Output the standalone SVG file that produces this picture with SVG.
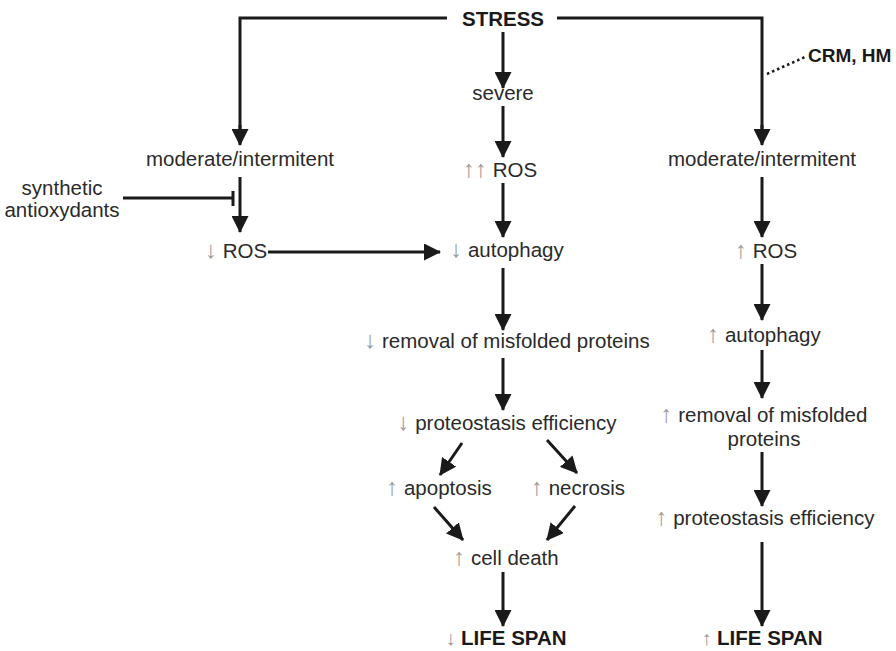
<svg xmlns="http://www.w3.org/2000/svg" width="896" height="651" viewBox="0 0 896 651">
<style>
text{font-family:"Liberation Sans",Arial,sans-serif;font-size:20.5px;fill:#2a2a2a;text-anchor:middle}
.b{font-weight:bold;fill:#1a1a1a}
.ar{fill:#9a9a9a;font-weight:normal;font-size:24px}
.ar2{fill:#9a9a9a;font-weight:normal;font-size:20px}
.ln{stroke:#1a1a1a;stroke-width:3;fill:none}
.ah{stroke:#1a1a1a;stroke-width:3;fill:none;marker-end:url(#h)}
.dot{stroke:#1a1a1a;stroke-width:2.5;stroke-dasharray:2.5 3;fill:none}
</style>
<defs>
<marker id="h" markerUnits="userSpaceOnUse" markerWidth="17" markerHeight="17" refX="16" refY="8.5" orient="auto" viewBox="0 0 17 17">
<path d="M0,0 L17,8.5 L0,17 z" fill="#1a1a1a"/>
</marker>
</defs>
<g id="connectors">
<path class="ln" d="M447,18 H240 V130"/>
<path class="ah" d="M240,125 V145"/>
<path class="ln" d="M557,18 H762 V130"/>
<path class="ah" d="M762,125 V145"/>
<path class="dot" d="M767,74 L805,57"/>
<path class="ah" d="M503,32 V88"/>
<path class="ah" d="M503,106 V157"/>
<path class="ah" d="M503,183 V237"/>
<path class="ah" d="M240,177 V232"/>
<path class="ln" d="M123,198 H233 M233,191 V206"/>
<path class="ah" d="M268,252 H440"/>
<path class="ah" d="M503,268 V330"/>
<path class="ah" d="M503,358 V410"/>
<path class="ah" d="M462,443 L440,475"/>
<path class="ah" d="M547,440 L577,473"/>
<path class="ah" d="M434,507 L463,540"/>
<path class="ah" d="M575,506 L547,540"/>
<path class="ah" d="M503,572 V626"/>
<path class="ah" d="M762,177 V237"/>
<path class="ah" d="M762,264 V320"/>
<path class="ah" d="M762,350 V398"/>
<path class="ah" d="M762,452 V506"/>
<path class="ah" d="M762,542 V626"/>
</g>
<g id="stress"><text class="b" x="503" y="26">STRESS</text></g>
<g id="crm"><text class="b" x="808" y="62" style="text-anchor:start;font-size:19px">CRM, HM</text></g>
<g id="severe"><text x="503" y="100">severe</text></g>
<g id="mod-left"><text x="240" y="166">moderate/intermitent</text></g>
<g id="mod-right"><text x="762" y="166">moderate/intermitent</text></g>
<g id="antiox"><text x="62" y="195">synthetic</text><text x="62" y="217">antioxydants</text></g>
<g id="ros-left"><text x="236" y="258"><tspan class="ar">↓</tspan> ROS</text></g>
<g id="ros-center"><text x="500" y="177"><tspan class="ar">↑↑</tspan> ROS</text></g>
<g id="autophagy-center"><text x="507" y="257"><tspan class="ar">↓</tspan> autophagy</text></g>
<g id="removal-center"><text x="507" y="348"><tspan class="ar">↓</tspan> removal of misfolded proteins</text></g>
<g id="proteo-center"><text x="507" y="430"><tspan class="ar">↓</tspan> proteostasis efficiency</text></g>
<g id="apoptosis"><text x="439" y="495"><tspan class="ar">↑</tspan> apoptosis</text></g>
<g id="necrosis"><text x="578" y="495"><tspan class="ar">↑</tspan> necrosis</text></g>
<g id="celldeath"><text x="506" y="565"><tspan class="ar">↑</tspan> cell death</text></g>
<g id="lifespan-down"><text class="b" x="506" y="645"><tspan class="ar2">↓</tspan> LIFE SPAN</text></g>
<g id="ros-right"><text x="766" y="258"><tspan class="ar">↑</tspan> ROS</text></g>
<g id="autophagy-right"><text x="764" y="342"><tspan class="ar">↑</tspan> autophagy</text></g>
<g id="removal-right"><text x="764" y="422"><tspan class="ar">↑</tspan> removal of misfolded</text><text x="764" y="446">proteins</text></g>
<g id="proteo-right"><text x="765" y="525"><tspan class="ar">↑</tspan> proteostasis efficiency</text></g>
<g id="lifespan-up"><text class="b" x="762" y="645"><tspan class="ar2">↑</tspan> LIFE SPAN</text></g>
</svg>
